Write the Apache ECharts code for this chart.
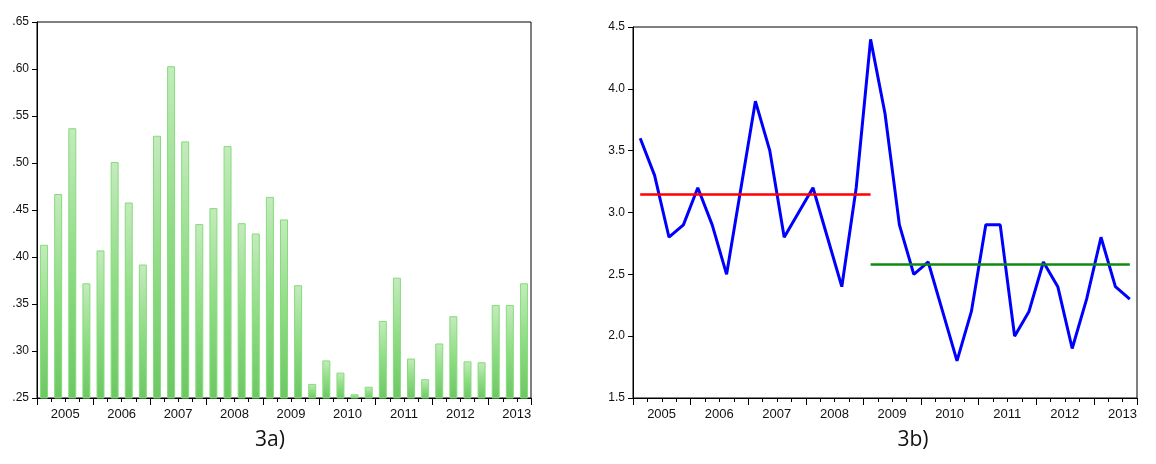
<!DOCTYPE html>
<html>
<head>
<meta charset="utf-8">
<script src="https://cdn.jsdelivr.net/npm/echarts@6/dist/echarts.min.js"></script>
<style>html,body{margin:0;background:#fff}#c{width:1156px;height:464px}</style>
</head>
<body>
<div id="c"></div>
<script>
// quarterly, 2005Q1 - 2013Q3
var years = ['2005', '2006', '2007', '2008', '2009', '2010', '2011', '2012', '2013'];
var quarters = [];
years.forEach(function (y) {
    for (var q = 1; q <= 4; q++) {
        if (y === '2013' && q === 4) return;
        quarters.push(y + 'Q' + q);
    }
});

// 3a) bars
var barValues = [0.413, 0.467, 0.537, 0.372, 0.407, 0.501, 0.458, 0.392,
    0.529, 0.603, 0.523, 0.435, 0.452, 0.518, 0.436, 0.425,
    0.464, 0.440, 0.370, 0.265, 0.290, 0.277, 0.254, 0.262,
    0.332, 0.378, 0.292, 0.270, 0.308, 0.337, 0.289, 0.288,
    0.349, 0.349, 0.372];

// 3b) line and the two segment means
var lineValues = [3.6, 3.3, 2.8, 2.9, 3.2, 2.9, 2.5, 3.2, 3.9, 3.5, 2.8, 3.0,
    3.2, 2.8, 2.4, 3.2, 4.4, 3.8, 2.9, 2.5, 2.6, 2.2, 1.8, 2.2,
    2.9, 2.9, 2.0, 2.2, 2.6, 2.4, 1.9, 2.3, 2.8, 2.4, 2.3];
var meanBefore = 3.15;
var meanAfter = 2.58;
var breakIndex = 16;

var myChart = echarts.init(document.getElementById('c'));

function yearAxes(gridIndex) {
    var labelShow = function (i) { return i % 4 === 1; };
    return [
        {
            type: 'category', gridIndex: gridIndex, data: quarters,
            axisLine: { show: true, lineStyle: { color: '#000', width: 1 } },
            axisTick: { show: true, inside: false, length: 7, interval: function (i) { return i % 4 === 0; }, lineStyle: { color: '#000', width: 1 } },
            axisLabel: {
                interval: labelShow,
                formatter: function (v) { return v.slice(0, 4); },
                color: '#111', fontSize: 13, fontFamily: 'Liberation Sans',
                margin: 10, padding: [0, 0, 0, 14]
            }
        },
        {
            type: 'category', gridIndex: gridIndex, data: quarters, position: 'bottom',
            axisLine: { show: false },
            axisTick: { show: true, inside: false, length: 4, interval: 0, lineStyle: { color: '#000', width: 1 } },
            axisLabel: { show: false }
        }
    ];
}

var option = {
    animation: false,
    title: [
        { text: '3a)', left: 265, top: 425, textAlign: 'center',
          textStyle: { fontSize: 21, fontWeight: 'normal', color: '#111', fontFamily: 'Open Sans' } },
        { text: '3b)', left: 908, top: 425, textAlign: 'center',
          textStyle: { fontSize: 21, fontWeight: 'normal', color: '#111', fontFamily: 'Open Sans' } }
    ],
    grid: [
        { left: 37, top: 22, width: 494, height: 376, show: true, borderColor: '#000', borderWidth: 1 },
        { left: 633, top: 27, width: 504, height: 371, show: true, borderColor: '#000', borderWidth: 1 }
    ],
    xAxis: yearAxes(0).concat(yearAxes(1)),
    yAxis: [
        {
            gridIndex: 0, type: 'value', min: 0.25, max: 0.65, interval: 0.05,
            splitLine: { show: false },
            axisLine: { show: true, lineStyle: { color: '#000' } },
            axisTick: { show: true, inside: false, length: 5, lineStyle: { color: '#000' } },
            axisLabel: {
                color: '#111', fontSize: 12, fontFamily: 'Liberation Sans', margin: 8,
                formatter: function (v) { return v.toFixed(2).replace(/^0/, ''); }
            }
        },
        {
            gridIndex: 1, type: 'value', min: 1.5, max: 4.5, interval: 0.5,
            splitLine: { show: false },
            axisLine: { show: true, lineStyle: { color: '#000' } },
            axisTick: { show: true, inside: false, length: 5, lineStyle: { color: '#000' } },
            axisLabel: {
                color: '#111', fontSize: 12, fontFamily: 'Liberation Sans', margin: 8,
                formatter: function (v) { return v.toFixed(1); }
            }
        }
    ],
    series: [
        {
            type: 'bar', xAxisIndex: 0, yAxisIndex: 0, data: barValues,
            barWidth: 8,
            itemStyle: {
                color: new echarts.graphic.LinearGradient(0, 0, 0, 1, [
                    { offset: 0, color: '#c4ebbd' },
                    { offset: 0.5, color: '#8fdc84' },
                    { offset: 1, color: '#6cc863' }
                ]),
                borderColor: '#86dc7c', borderWidth: 1
            }
        },
        {
            type: 'line', xAxisIndex: 2, yAxisIndex: 1, data: lineValues,
            symbol: 'none', lineStyle: { color: '#0000ff', width: 3 },
            markLine: {
                silent: true, symbol: 'none', label: { show: false },
                data: [
                    [{ coord: [0, meanBefore], lineStyle: { color: '#ff0000', width: 2.5, type: 'solid' } },
                     { coord: [breakIndex, meanBefore] }],
                    [{ coord: [breakIndex, meanAfter], lineStyle: { color: '#118811', width: 2.5, type: 'solid' } },
                     { coord: [lineValues.length - 1, meanAfter] }]
                ]
            }
        }
    ]
};

myChart.setOption(option);
</script>
</body>
</html>
